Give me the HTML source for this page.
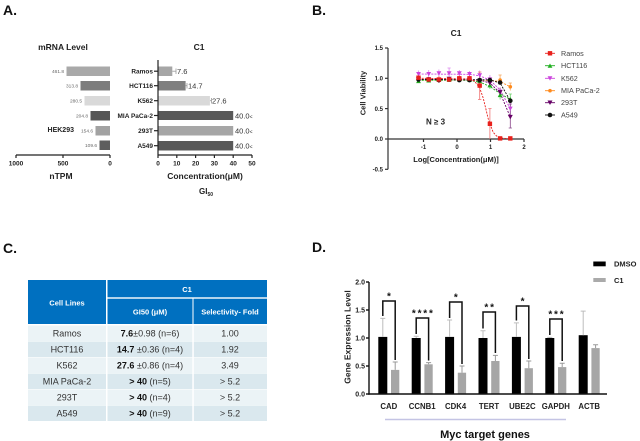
<!DOCTYPE html>
<html><head><meta charset="utf-8"><style>
html,body{margin:0;padding:0;background:#fff;}
svg{display:block;font-family:"Liberation Sans",Arial,sans-serif;}
</style></head><body>
<svg width="640" height="441" viewBox="0 0 640 441" xmlns="http://www.w3.org/2000/svg">
<!-- Panel labels -->
<g font-weight="bold" font-size="14" fill="#111">
<text x="3" y="15">A.</text><text x="312" y="15">B.</text>
<text x="3" y="253">C.</text><text x="312" y="252">D.</text>
</g>

<!-- ===== Panel A left ===== -->
<text x="63" y="50" font-size="8.5" font-weight="bold" text-anchor="middle" fill="#222">mRNA Level</text>
<rect x="66.5" y="66.5" width="43.5" height="9.5" fill="#a9a9a9"/>
<rect x="80.5" y="81" width="29.5" height="9.5" fill="#7d7d7d"/>
<rect x="84.5" y="96" width="25.5" height="9.5" fill="#d9d9d9"/>
<rect x="90.5" y="111" width="19.5" height="9.5" fill="#565656"/>
<rect x="95.5" y="126" width="14.5" height="9.5" fill="#a2a2a2"/>
<rect x="99.5" y="140.5" width="10.5" height="9.5" fill="#5e5e5e"/>
<g font-size="4.8" fill="#666" text-anchor="end">
<text x="64" y="73">461.8</text><text x="78" y="87.5">313.8</text><text x="82" y="102.5">280.5</text>
<text x="88" y="117.5">204.8</text><text x="93" y="132.5">154.6</text><text x="97" y="147">109.6</text>
</g>
<text x="74" y="132" font-size="7" font-weight="bold" text-anchor="end" fill="#222">HEK293</text>
<g stroke="#222" stroke-width="1.2">
<line x1="16" y1="155" x2="110" y2="155"/>
<line x1="16" y1="155" x2="16" y2="158"/><line x1="63" y1="155" x2="63" y2="158"/><line x1="110" y1="155" x2="110" y2="158"/>
</g>
<g font-size="6.5" font-weight="bold" fill="#222" text-anchor="middle">
<text x="16" y="165.5">1000</text><text x="63" y="165.5">500</text><text x="110" y="165.5">0</text>
</g>
<text x="61" y="179" font-size="8.5" font-weight="bold" text-anchor="middle" fill="#222">nTPM</text>

<!-- ===== Panel A right ===== -->
<text x="199" y="50" font-size="8.5" font-weight="bold" text-anchor="middle" fill="#222">C1</text>
<rect x="158" y="66.5" width="14.3" height="9.5" fill="#a6a6a6"/>
<rect x="158" y="81" width="27.6" height="9.5" fill="#7f7f7f"/>
<rect x="158" y="96" width="51.9" height="9.5" fill="#d9d9d9"/>
<rect x="158" y="111" width="75.2" height="9" fill="#595959"/>
<rect x="158" y="126" width="75.2" height="9.5" fill="#a6a6a6"/>
<rect x="158" y="141" width="75.2" height="9.5" fill="#595959"/>
<g stroke="#999" stroke-width="0.8">
<line x1="172.3" y1="71.2" x2="176" y2="71.2"/><line x1="176" y1="68.5" x2="176" y2="74"/>
<line x1="185.6" y1="85.7" x2="187" y2="85.7"/><line x1="187" y1="83" x2="187" y2="88.5"/>
<line x1="210" y1="100.7" x2="211.5" y2="100.7"/><line x1="211.5" y1="98" x2="211.5" y2="103.5"/>
</g>
<g font-size="7.5" fill="#333">
<text x="177" y="74">7.6</text><text x="188" y="88.5">14.7</text><text x="212" y="103.5">27.6</text>
<text x="235" y="118.5">40.0<tspan font-size="5">&lt;</tspan></text>
<text x="235" y="133.5">40.0<tspan font-size="5">&lt;</tspan></text>
<text x="235" y="148.5">40.0<tspan font-size="5">&lt;</tspan></text>
</g>
<g font-size="6.5" font-weight="bold" fill="#222" text-anchor="end">
<text x="153" y="73.5">Ramos</text><text x="153" y="88">HCT116</text><text x="153" y="103">K562</text>
<text x="153" y="118">MIA PaCa-2</text><text x="153" y="133">293T</text><text x="153" y="148">A549</text>
</g>
<g stroke="#222" stroke-width="1.2">
<line x1="158" y1="60" x2="158" y2="155"/><line x1="158" y1="155" x2="252" y2="155"/>
<line x1="154" y1="71.2" x2="158" y2="71.2"/><line x1="154" y1="85.7" x2="158" y2="85.7"/>
<line x1="154" y1="100.7" x2="158" y2="100.7"/><line x1="154" y1="115.5" x2="158" y2="115.5"/>
<line x1="154" y1="130.7" x2="158" y2="130.7"/><line x1="154" y1="145.7" x2="158" y2="145.7"/>
<line x1="158" y1="155" x2="158" y2="158"/><line x1="176.8" y1="155" x2="176.8" y2="158"/>
<line x1="195.6" y1="155" x2="195.6" y2="158"/><line x1="214.4" y1="155" x2="214.4" y2="158"/>
<line x1="233.2" y1="155" x2="233.2" y2="158"/><line x1="252" y1="155" x2="252" y2="158"/>
</g>
<g font-size="6.5" font-weight="bold" fill="#222" text-anchor="middle">
<text x="158" y="165.5">0</text><text x="176.8" y="165.5">10</text><text x="195.6" y="165.5">20</text>
<text x="214.4" y="165.5">30</text><text x="233.2" y="165.5">40</text><text x="252" y="165.5">50</text>
</g>
<text x="205" y="179" font-size="8.5" font-weight="bold" text-anchor="middle" fill="#222">Concentration(μM)</text>
<text x="199" y="194" font-size="8" font-weight="bold" fill="#222">GI<tspan font-size="5" dy="2">50</tspan></text>

<!-- ===== Panel B ===== -->
<text x="456" y="36" font-size="8.5" font-weight="bold" text-anchor="middle" fill="#222">C1</text>
<g stroke="#333" stroke-width="1.2">
<line x1="388" y1="48" x2="388" y2="169.3"/>
<line x1="388" y1="139" x2="524" y2="139"/>
<line x1="385" y1="48" x2="388" y2="48"/><line x1="385" y1="78.3" x2="388" y2="78.3"/>
<line x1="385" y1="108.6" x2="388" y2="108.6"/><line x1="385" y1="139" x2="388" y2="139"/>
<line x1="385" y1="169.3" x2="388" y2="169.3"/>
<line x1="423.5" y1="139" x2="423.5" y2="142"/><line x1="457" y1="139" x2="457" y2="142"/>
<line x1="490.5" y1="139" x2="490.5" y2="142"/><line x1="524" y1="139" x2="524" y2="142"/>
</g>
<g font-size="6" font-weight="bold" fill="#222" text-anchor="end">
<text x="383" y="50.2">1.5</text><text x="383" y="80.5">1.0</text><text x="383" y="110.8">0.5</text>
<text x="383" y="141.2">0.0</text><text x="383" y="171.5">-0.5</text>
</g>
<g font-size="6" font-weight="bold" fill="#222" text-anchor="middle">
<text x="423.5" y="149">-1</text><text x="457" y="149">0</text><text x="490.5" y="149">1</text><text x="524" y="149">2</text>
</g>
<text x="456" y="162" font-size="7.5" font-weight="bold" text-anchor="middle" fill="#222">Log[Concentration(μM)]</text>
<text transform="translate(365.5,93) rotate(-90)" font-size="7.5" font-weight="bold" text-anchor="middle" fill="#222">Cell Viability</text>
<text x="426" y="124.5" font-size="8" font-weight="bold" fill="#222">N ≥ 3</text>

<!-- curves -->
<g fill="none" stroke-width="0.9" stroke-dasharray="2,1.2">
<path d="M418.5,80.1 L489.9,80.3 L500.1,81.5 L510.3,86.8" stroke="#ff8a1c"/>
<path d="M418.5,80.3 L459.3,80.1 L469.5,80.5 L479.7,82 L489.9,86.5 L500.1,93.5 L510.3,99.5" stroke="#1fae1f"/>
<path d="M418.5,74 L469.5,74.3 L479.7,75.8 L489.9,80 L500.1,90 L510.3,108.7" stroke="#cc44dd"/>
<path d="M418.5,79.4 L479.7,80 L489.9,83 L500.1,93 L510.3,117" stroke="#660066"/>
<path d="M418.5,79.4 L489.9,79.8 L500.1,83 L510.3,100.8" stroke="#111"/>
<path d="M418.5,78.3 L469.5,78.9 L474.7,81.3 L479.7,88 L483.1,97.7 L485.8,108.6 L488.1,118.4 L489.9,123.8 L493.2,132.3 L496.6,136 L500,137.8 L510.3,139" stroke="#e8201c"/>
</g>
<!-- error bars -->
<g stroke-width="0.8" fill="none">
<g stroke="#f4a860"><path d="M500.1,75 V84 M498.5,75 H501.7 M510.3,83 V90.5 M508.7,83 H511.9"/></g>
<g stroke="#6ccf6c"><path d="M500.1,91 V99.5 M498.5,91 H501.7 M510.3,94 V106 M508.7,94 H511.9 M489.9,82 V89"/></g>
<g stroke="#dd88ee"><path d="M418.5,70.5 V77.5 M428.7,70 V78 M438.9,69.5 V77 M449.1,68 V78.5 M447.5,68 H450.7 M459.3,70 V77 M469.5,71 V77 M479.7,70.5 V80 M489.9,75 V84 M500.1,87 V96 M510.3,102 V115"/></g>
<g stroke="#884488"><path d="M510.3,104 V128 M508.7,104 H511.9 M508.7,128 H511.9 M500.1,88 V96"/></g>
<g stroke="#f07070"><path d="M479.7,72 V99.5 M478,72 H481.4 M478,99.5 H481.4 M489.9,108.6 V139 M488.3,108.6 H491.5 M438.9,76 V83 M459.3,75.5 V81.5"/></g>
</g>
<!-- markers -->
<g fill="#ff8a1c">
<circle cx="418.5" cy="80.1" r="1.8"/><circle cx="428.7" cy="80.1" r="1.8"/><circle cx="438.9" cy="80.1" r="1.8"/><circle cx="449.1" cy="79.5" r="1.8"/><circle cx="459.3" cy="79.5" r="1.8"/><circle cx="469.5" cy="80.1" r="1.8"/><circle cx="479.7" cy="80.1" r="1.8"/><circle cx="489.9" cy="80.1" r="1.8"/><circle cx="500.1" cy="80.1" r="1.8"/><circle cx="510.3" cy="86.8" r="1.8"/>
</g>
<g fill="#1fae1f">
<path d="M418.5,78.8 l-2.4,4.3 h4.8z M428.7,78.2 l-2.4,4.3 h4.8z M438.9,77.6 l-2.4,4.3 h4.8z M449.1,77.6 l-2.4,4.3 h4.8z M459.3,77 l-2.4,4.3 h4.8z M469.5,77.6 l-2.4,4.3 h4.8z M479.7,78.8 l-2.4,4.3 h4.8z M489.9,83.1 l-2.4,4.3 h4.8z M500.1,92.8 l-2.4,4.3 h4.8z M510.3,97 l-2.4,4.3 h4.8z"/>
</g>
<g fill="#cc44dd">
<path d="M416.1,72 h4.8 l-2.4,4.3z M426.3,72 h4.8 l-2.4,4.3z M436.5,71.3 h4.8 l-2.4,4.3z M446.7,71.3 h4.8 l-2.4,4.3z M456.9,71.3 h4.8 l-2.4,4.3z M467.1,72 h4.8 l-2.4,4.3z M477.3,73.2 h4.8 l-2.4,4.3z M487.5,77.4 h4.8 l-2.4,4.3z M497.7,89.6 h4.8 l-2.4,4.3z M507.9,106.6 h4.8 l-2.4,4.3z"/>
</g>
<g fill="#660066">
<path d="M416,77.3 h5 l-2.5,4.5z M426.2,77.3 h5 l-2.5,4.5z M436.4,77.9 h5 l-2.5,4.5z M446.6,76.7 h5 l-2.5,4.5z M456.8,77.3 h5 l-2.5,4.5z M467,77.9 h5 l-2.5,4.5z M477.2,78.5 h5 l-2.5,4.5z M487.4,81 h5 l-2.5,4.5z M497.6,90.1 h5 l-2.5,4.5z M507.8,114.9 h5 l-2.5,4.5z"/>
</g>
<g fill="#111">
<circle cx="418.5" cy="79.5" r="2.3"/><circle cx="428.7" cy="79.5" r="2.3"/><circle cx="438.9" cy="80.1" r="2.3"/><circle cx="449.1" cy="79.5" r="2.3"/><circle cx="459.3" cy="80.1" r="2.3"/><circle cx="469.5" cy="80.1" r="2.3"/><circle cx="479.7" cy="80.1" r="2.3"/><circle cx="489.9" cy="80.1" r="2.3"/><circle cx="500.1" cy="82.5" r="2.3"/><circle cx="510.3" cy="100.8" r="2.3"/>
</g>
<g fill="#e8201c">
<rect x="416.3" y="75.5" width="4.4" height="4.4"/><rect x="426.5" y="77.3" width="4.4" height="4.4"/><rect x="436.7" y="77.3" width="4.4" height="4.4"/><rect x="446.9" y="77.3" width="4.4" height="4.4"/><rect x="457.1" y="76.1" width="4.4" height="4.4"/><rect x="467.3" y="76.1" width="4.4" height="4.4"/><rect x="477.5" y="83.4" width="4.4" height="4.4"/><rect x="487.7" y="121.6" width="4.4" height="4.4"/><rect x="497.9" y="136.2" width="4.4" height="4.4"/><rect x="508.1" y="136.2" width="4.4" height="4.4"/>
</g>
<!-- legend B -->
<g stroke-width="0.9">
<line x1="545" y1="53.3" x2="555" y2="53.3" stroke="#e8201c"/>
<line x1="545" y1="65.7" x2="555" y2="65.7" stroke="#1fae1f"/>
<line x1="545" y1="78.3" x2="555" y2="78.3" stroke="#cc44dd"/>
<line x1="545" y1="90.7" x2="555" y2="90.7" stroke="#ff8a1c"/>
<line x1="545" y1="102.7" x2="555" y2="102.7" stroke="#660066"/>
<line x1="545" y1="115" x2="555" y2="115" stroke="#111"/>
</g>
<rect x="547.8" y="51.1" width="4.4" height="4.4" fill="#e8201c"/>
<path d="M550,63.5 l-2.4,4.3 h4.8z" fill="#1fae1f"/>
<path d="M547.6,76.3 h4.8 l-2.4,4.3z" fill="#cc44dd"/>
<circle cx="550" cy="90.7" r="1.8" fill="#ff8a1c"/>
<path d="M547.5,100.5 h5 l-2.5,4.5z" fill="#660066"/>
<circle cx="550" cy="115" r="2.3" fill="#111"/>
<g font-size="7.2" fill="#444">
<text x="561" y="55.8">Ramos</text><text x="561" y="68.2">HCT116</text><text x="561" y="80.8">K562</text>
<text x="561" y="93.2">MIA PaCa-2</text><text x="561" y="105.2">293T</text><text x="561" y="117.5">A549</text>
</g>

<!-- ===== Panel C table ===== -->
<rect x="28" y="280" width="78" height="44" fill="#0070c0"/>
<rect x="107.5" y="280" width="159.5" height="17.3" fill="#0070c0"/>
<rect x="107.5" y="298.7" width="85" height="25.3" fill="#0070c0"/>
<rect x="193.5" y="298.7" width="73.5" height="25.3" fill="#0070c0"/>
<g font-size="7.5" font-weight="bold" fill="#fff" text-anchor="middle">
<text x="67" y="305.5">Cell Lines</text>
<text x="187" y="292">C1</text>
<text x="150" y="314.5">GI50 (μM)</text>
<text x="230" y="314.5">Selectivity- Fold</text>
</g>
<g>
<rect x="28" y="325.5" width="239" height="15.5" fill="#ebf3f6"/>
<rect x="28" y="341.5" width="239" height="15.5" fill="#dae8ee"/>
<rect x="28" y="357.5" width="239" height="15.5" fill="#ebf3f6"/>
<rect x="28" y="373.5" width="239" height="15.5" fill="#dae8ee"/>
<rect x="28" y="389.5" width="239" height="15.5" fill="#ebf3f6"/>
<rect x="28" y="405.5" width="239" height="15.5" fill="#dae8ee"/>
<rect x="106" y="325" width="1.5" height="96" fill="#fff"/>
<rect x="192.3" y="325" width="1.5" height="96" fill="#fff"/>
</g>
<g font-size="9" fill="#333" text-anchor="middle">
<text x="67" y="336.5">Ramos</text><text x="67" y="352.5">HCT116</text><text x="67" y="368.5">K562</text>
<text x="67" y="384.5">MIA PaCa-2</text><text x="67" y="400.5">293T</text><text x="67" y="416.5">A549</text>
<text x="150" y="336.5"><tspan font-weight="bold" fill="#111">7.6</tspan>±0.98 (n=6)</text>
<text x="150" y="352.5"><tspan font-weight="bold" fill="#111">14.7</tspan> ±0.36 (n=4)</text>
<text x="150" y="368.5"><tspan font-weight="bold" fill="#111">27.6</tspan> ±0.86 (n=4)</text>
<text x="150" y="384.5"><tspan font-weight="bold" fill="#111">&gt; 40</tspan> (n=5)</text>
<text x="150" y="400.5"><tspan font-weight="bold" fill="#111">&gt; 40</tspan> (n=4)</text>
<text x="150" y="416.5"><tspan font-weight="bold" fill="#111">&gt; 40</tspan> (n=9)</text>
<text x="230" y="336.5">1.00</text><text x="230" y="352.5">1.92</text><text x="230" y="368.5">3.49</text>
<text x="230" y="384.5">&gt; 5.2</text><text x="230" y="400.5">&gt; 5.2</text><text x="230" y="416.5">&gt; 5.2</text>
</g>

<!-- ===== Panel D ===== -->
<rect x="593.3" y="261.5" width="12.4" height="4.8" fill="#000"/>
<rect x="593.3" y="278" width="12.4" height="4" fill="#aaa"/>
<g font-size="7.5" font-weight="bold" fill="#222">
<text x="614" y="266.5">DMSO</text><text x="614" y="283">C1</text>
</g>
<!-- bars -->
<g fill="#000">
<rect x="378.3" y="336.9" width="9" height="57.1"/>
<rect x="411.7" y="338" width="9" height="56"/>
<rect x="445.1" y="336.9" width="9" height="57.1"/>
<rect x="478.5" y="338" width="9" height="56"/>
<rect x="511.9" y="336.9" width="9" height="57.1"/>
<rect x="545.3" y="338" width="9" height="56"/>
<rect x="578.7" y="335.2" width="9" height="58.8"/>
</g>
<g fill="#a6a6a6">
<rect x="391" y="369.9" width="8.3" height="24.1"/>
<rect x="424.4" y="364.3" width="8.3" height="29.7"/>
<rect x="457.8" y="372.7" width="8.3" height="21.3"/>
<rect x="491.2" y="361" width="8.3" height="33"/>
<rect x="524.6" y="368.2" width="8.3" height="25.8"/>
<rect x="558" y="367.1" width="8.3" height="26.9"/>
<rect x="591.4" y="348.1" width="8.3" height="45.9"/>
</g>
<!-- error bars -->
<g stroke="#bdbdbd" stroke-width="1" fill="none">
<path d="M382.8,336.9 V318.4 M380.3,318.4 H385.3"/>
<path d="M416.2,338 V336.3 M413.7,336.3 H418.7"/>
<path d="M449.6,336.9 V320 M447.1,320 H452.1"/>
<path d="M483,338 V330.7 M480.5,330.7 H485.5"/>
<path d="M516.4,336.9 V322.9 M513.9,322.9 H518.9"/>
<path d="M549.8,338 V337.4 M547.3,337.4 H552.3"/>
<path d="M583.2,335.2 V311.1 M580.7,311.1 H585.7"/>
</g>
<g stroke="#999" stroke-width="1" fill="none">
<path d="M395.2,369.9 V362 M392.7,362 H397.7"/>
<path d="M428.6,364.3 V362.6 M426.1,362.6 H431.1"/>
<path d="M462,372.7 V366 M459.5,366 H464.5"/>
<path d="M495.4,361 V355.4 M492.9,355.4 H497.9"/>
<path d="M528.8,368.2 V361 M526.3,361 H531.3"/>
<path d="M562.2,367.1 V363.2 M559.7,363.2 H564.7"/>
<path d="M595.6,348.1 V344.7 M593.1,344.7 H598.1"/>
</g>
<!-- brackets -->
<g stroke="#111" stroke-width="1.5" fill="none">
<path d="M382.8,316 V301 H395.2 V360"/>
<path d="M416.2,334 V318 H428.6 V360.5"/>
<path d="M449.6,318 V302 H462 V364"/>
<path d="M483,328.5 V312 H495.4 V353"/>
<path d="M516.4,320.5 V306 H528.8 V359"/>
<path d="M549.8,335 V319 H562.2 V361"/>
</g>
<g font-size="10" font-weight="bold" fill="#111" text-anchor="middle" letter-spacing="1.8">
<text x="389.9" y="299.5">*</text>
<text x="423.3" y="316.5">****</text>
<text x="456.7" y="300.5">*</text>
<text x="490.1" y="310.5">**</text>
<text x="523.5" y="304.5">*</text>
<text x="556.9" y="317.5">***</text>
</g>
<!-- axes D -->
<g stroke="#111" stroke-width="1.4">
<line x1="369" y1="282" x2="369" y2="394.7"/>
<line x1="368.3" y1="394" x2="607" y2="394"/>
<line x1="366" y1="282" x2="369" y2="282"/><line x1="366" y1="310" x2="369" y2="310"/>
<line x1="366" y1="338" x2="369" y2="338"/><line x1="366" y1="366" x2="369" y2="366"/>
<line x1="366" y1="394" x2="369" y2="394"/>
</g>
<g font-size="7" font-weight="bold" fill="#222" text-anchor="end">
<text x="365" y="284.5">2.0</text><text x="365" y="312.5">1.5</text><text x="365" y="340.5">1.0</text>
<text x="365" y="368.5">0.5</text><text x="365" y="396.5">0.0</text>
</g>
<text transform="translate(350.5,337) rotate(-90)" font-size="8.5" font-weight="bold" text-anchor="middle" fill="#222">Gene Expression Level</text>
<g font-size="7.8" font-weight="bold" fill="#222" text-anchor="middle">
<text x="388.8" y="409">CAD</text><text x="422.2" y="409">CCNB1</text><text x="455.6" y="409">CDK4</text>
<text x="489" y="409">TERT</text><text x="522.4" y="409">UBE2C</text><text x="555.8" y="409">GAPDH</text>
<text x="589.2" y="409">ACTB</text>
</g>
<line x1="385" y1="419.5" x2="566" y2="419.5" stroke="#c4c4e4" stroke-width="1.5"/>
<text x="485" y="438" font-size="11" font-weight="bold" text-anchor="middle" fill="#111">Myc target genes</text>
</svg>
</body></html>
